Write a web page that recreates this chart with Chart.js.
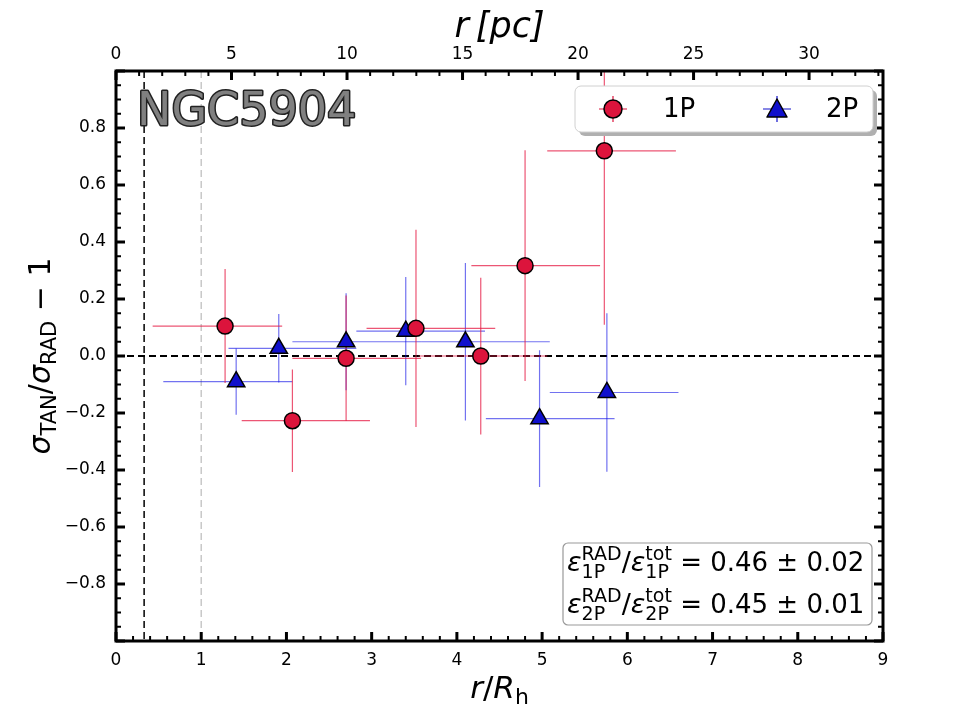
<!DOCTYPE html>
<html>
<head>
<meta charset="utf-8">
<script src="https://cdn.jsdelivr.net/npm/chart.js@4/dist/chart.umd.min.js"></script>
<style>
  body { margin: 0; background: #fff; }
  #caixa { width: 960px; height: 720px; }
</style>
</head>
<body>
<div id="caixa"><canvas id="grafico"></canvas></div>
<script>
// dados (raio em unidades de R_h)
const x1P = [1.28, 2.07, 2.70, 3.52, 4.28, 4.80, 5.73];
const y1P = [0.105, -0.227, -0.008, 0.097, 0.0, 0.317, 0.72];
const xMin1P = [0.43, 1.475, 2.07, 2.94, 3.55, 4.17, 5.06];
const xMax1P = [1.95, 2.98, 3.58, 4.45, 5.06, 5.68, 6.57];
const yErr1P = [0.20, 0.18, 0.22, 0.346, 0.275, 0.405, 0.61];

const x2P = [1.41, 1.91, 2.70, 3.40, 4.10, 4.97, 5.76];
const y2P = [-0.09, 0.027, 0.05, 0.087, 0.05, -0.22, -0.128];
const xMin2P = [0.555, 1.32, 2.07, 2.82, 3.58, 4.34, 5.09];
const xMax2P = [2.07, 2.82, 3.58, 4.33, 5.09, 5.85, 6.60];
const yErr2P = [0.116, 0.12, 0.17, 0.19, 0.276, 0.24, 0.278];

const xTicks = [0, 1, 2, 3, 4, 5, 6, 7, 8, 9];
const yTicks = [-0.8, -0.6, -0.4, -0.2, 0, 0.2, 0.4, 0.6, 0.8];
const pcTicks = [0, 5, 10, 15, 20, 25, 30];
const pcMax = 33.2;          // 9 R_h em parsec
const rLimite = 0.33;        // linha tracejada preta
const rMeia = 1;             // linha tracejada cinza

const vermelho = '#DC143C';
const azul = '#1010CC';
const FONTE = 'DejaVu Sans';

function rotuloY(v) {
  if (Math.abs(v) < 1e-9) return '0.0';
  return (v < 0 ? '\u2212' : '') + Math.abs(v).toFixed(1);
}

// escreve pedaços de texto com sobrescrito/subscrito, devolve a largura
function textoMat(ctx, partes, x, y, medir) {
  let cx = x;
  for (const p of partes) {
    if (p.sup !== undefined) {
      ctx.font = p.font;
      const w1 = ctx.measureText(p.sup).width;
      const w2 = ctx.measureText(p.sub).width;
      if (!medir) {
        ctx.fillText(p.sup, cx, y - p.up);
        ctx.fillText(p.sub, cx, y + p.down);
      }
      cx += Math.max(w1, w2);
    } else {
      ctx.font = p.font;
      const w = ctx.measureText(p.t).width;
      if (!medir) ctx.fillText(p.t, cx, y + (p.dy || 0));
      cx += w + (p.gap || 0);
    }
  }
  return cx - x;
}

const extras = {
  id: 'extras',
  beforeDatasetsDraw(chart) {
    const { ctx, chartArea: a, scales: { x, y } } = chart;
    ctx.save();
    ctx.beginPath();
    ctx.rect(a.left, a.top, a.right - a.left, a.bottom - a.top);
    ctx.clip();

    // linhas verticais de referência
    ctx.setLineDash([7, 4]);
    ctx.lineWidth = 1.5;
    ctx.strokeStyle = '#c8c8c8';
    ctx.beginPath();
    ctx.moveTo(x.getPixelForValue(rMeia), a.top);
    ctx.lineTo(x.getPixelForValue(rMeia), a.bottom);
    ctx.stroke();
    ctx.strokeStyle = '#000';
    ctx.beginPath();
    ctx.moveTo(x.getPixelForValue(rLimite), a.top);
    ctx.lineTo(x.getPixelForValue(rLimite), a.bottom);
    ctx.stroke();
    // linha do zero
    ctx.lineWidth = 1.8;
    ctx.setLineDash([7, 4]);
    ctx.beginPath();
    ctx.moveTo(a.left, y.getPixelForValue(0));
    ctx.lineTo(a.right, y.getPixelForValue(0));
    ctx.stroke();
    ctx.setLineDash([]);

    // barras de erro
    const barras = (xs, ys, lo, hi, ey, cor) => {
      ctx.strokeStyle = cor;
      ctx.lineWidth = 1.2;
      for (let i = 0; i < xs.length; i++) {
        const px = x.getPixelForValue(xs[i]);
        const py = y.getPixelForValue(ys[i]);
        ctx.beginPath();
        ctx.moveTo(x.getPixelForValue(lo[i]), py);
        ctx.lineTo(x.getPixelForValue(hi[i]), py);
        ctx.moveTo(px, y.getPixelForValue(ys[i] + ey[i]));
        ctx.lineTo(px, y.getPixelForValue(ys[i] - ey[i]));
        ctx.stroke();
      }
    };
    barras(x2P, y2P, xMin2P, xMax2P, yErr2P, 'rgba(20,20,230,0.6)');
    barras(x1P, y1P, xMin1P, xMax1P, yErr1P, 'rgba(230,30,70,0.75)');
    ctx.restore();
  },
  afterDraw(chart) {
    const { ctx, chartArea: a, scales: { x, y, x2 } } = chart;
    ctx.save();

    // moldura
    ctx.strokeStyle = '#000';
    ctx.lineWidth = 3;
    ctx.strokeRect(a.left, a.top, a.right - a.left, a.bottom - a.top);

    // marcas (para dentro)
    const marca = (px, py, dx, dy, lw) => {
      ctx.lineWidth = lw;
      ctx.beginPath();
      ctx.moveTo(px, py);
      ctx.lineTo(px + dx, py + dy);
      ctx.stroke();
    };
    for (let i = 0; i <= 45; i++) {
      const px = x.getPixelForValue(i * 0.2);
      const maior = i % 5 === 0;
      marca(px, a.bottom, 0, maior ? -9 : -5, maior ? 3 : 2);
    }
    for (let i = 0; i <= 33; i++) {
      const px = x2.getPixelForValue(i);
      const maior = i % 5 === 0;
      marca(px, a.top, 0, maior ? 9 : 5, maior ? 3 : 2);
    }
    for (let i = -20; i <= 20; i++) {
      const py = y.getPixelForValue(i * 0.05);
      const maior = i % 4 === 0;
      marca(a.left, py, maior ? 9 : 5, 0, maior ? 3 : 2);
      marca(a.right, py, maior ? -9 : -5, 0, maior ? 3 : 2);
    }

    ctx.fillStyle = '#000';
    ctx.textBaseline = 'alphabetic';

    // título superior
    ctx.textAlign = 'center';
    ctx.font = 'italic 35px ' + FONTE;
    ctx.fillText('r\u2009[pc]', (a.left + a.right) / 2, 37);

    // título inferior r/R_h
    ctx.textAlign = 'left';
    const partesX = [
      { t: 'r', font: 'italic 31px ' + FONTE },
      { t: '/', font: '31px ' + FONTE },
      { t: 'R', font: 'italic 31px ' + FONTE },
      { t: 'h', font: '22px ' + FONTE, dy: 6 }
    ];
    const wx = textoMat(ctx, partesX, 0, 0, true);
    textoMat(ctx, partesX, (a.left + a.right) / 2 - wx / 2, 698);

    // título do eixo y
    const partesY = [
      { t: '\u03c3', font: 'italic 30px ' + FONTE },
      { t: 'TAN', font: '21px ' + FONTE, dy: 6 },
      { t: '/', font: '30px ' + FONTE },
      { t: '\u03c3', font: 'italic 30px ' + FONTE },
      { t: 'RAD', font: '21px ' + FONTE, dy: 6 },
      { t: ' \u2212 1', font: '30px ' + FONTE }
    ];
    const wy = textoMat(ctx, partesY, 0, 0, true);
    ctx.save();
    ctx.translate(50, (a.top + a.bottom) / 2);
    ctx.rotate(-Math.PI / 2);
    textoMat(ctx, partesY, -wy / 2, 0);
    ctx.restore();

    // nome do aglomerado
    ctx.font = '46px ' + FONTE;
    ctx.lineJoin = 'round';
    ctx.lineWidth = 3;
    ctx.strokeStyle = '#222';
    ctx.strokeText('NGC5904', 137, 125);
    ctx.fillStyle = '#808080';
    ctx.fillText('NGC5904', 137, 125);

    // legenda
    const lx = 575, ly = 86, lw = 298, lh = 46;
    ctx.fillStyle = '#b0b0b0';
    ctx.beginPath();
    ctx.roundRect(lx + 4, ly + 4, lw, lh, 6);
    ctx.fill();
    ctx.fillStyle = '#fff';
    ctx.strokeStyle = '#d0d0d0';
    ctx.lineWidth = 1;
    ctx.beginPath();
    ctx.roundRect(lx, ly, lw, lh, 6);
    ctx.fill();
    ctx.stroke();

    const cy = ly + lh / 2;
    ctx.lineWidth = 1.2;
    ctx.strokeStyle = vermelho;
    ctx.beginPath();
    ctx.moveTo(599, cy); ctx.lineTo(627, cy);
    ctx.moveTo(613, cy - 13); ctx.lineTo(613, cy + 13);
    ctx.stroke();
    ctx.fillStyle = vermelho;
    ctx.strokeStyle = '#000';
    ctx.lineWidth = 1.5;
    ctx.beginPath();
    ctx.arc(613, cy, 9, 0, Math.PI * 2);
    ctx.fill();
    ctx.stroke();

    ctx.lineWidth = 1.2;
    ctx.strokeStyle = azul;
    ctx.beginPath();
    ctx.moveTo(763, cy); ctx.lineTo(791, cy);
    ctx.moveTo(777, cy - 13); ctx.lineTo(777, cy + 13);
    ctx.stroke();
    ctx.fillStyle = azul;
    ctx.strokeStyle = '#000';
    ctx.lineWidth = 1.5;
    ctx.beginPath();
    ctx.moveTo(777, cy - 10);
    ctx.lineTo(767, cy + 8);
    ctx.lineTo(787, cy + 8);
    ctx.closePath();
    ctx.fill();
    ctx.stroke();

    ctx.fillStyle = '#000';
    ctx.font = '26px ' + FONTE;
    ctx.textBaseline = 'middle';
    ctx.fillText('1P', 663, cy + 1);
    ctx.fillText('2P', 826, cy + 1);
    ctx.textBaseline = 'alphabetic';

    // caixa com as razões de energia
    ctx.fillStyle = 'rgba(255,255,255,0.9)';
    ctx.strokeStyle = '#999';
    ctx.lineWidth = 1.2;
    ctx.beginPath();
    ctx.roundRect(563, 543, 309, 82, 5);
    ctx.fill();
    ctx.stroke();

    ctx.fillStyle = '#000';
    const linha = (pop, v1, v2, yb) => {
      textoMat(ctx, [
        { t: '\u03b5', font: 'italic 27px ' + FONTE },
        { sup: 'RAD', sub: pop, font: '19px ' + FONTE, up: 11, down: 7 },
        { t: '/', font: '27px ' + FONTE },
        { t: '\u03b5', font: 'italic 27px ' + FONTE },
        { sup: 'tot', sub: pop, font: '19px ' + FONTE, up: 11, down: 7 },
        { t: ' = ' + v1 + ' \u00b1 ' + v2, font: '26px ' + FONTE }
      ], 567, yb);
    };
    linha('1P', '0.46', '0.02', 571);
    linha('2P', '0.45', '0.01', 613);

    ctx.restore();
  }
};

const ctxGrafico = document.getElementById('grafico').getContext('2d');
new Chart(ctxGrafico, {
  type: 'scatter',
  data: {
    datasets: [
      {
        label: '1P',
        data: x1P.map((v, i) => ({ x: v, y: y1P[i] })),
        pointStyle: 'circle',
        pointRadius: 8,
        backgroundColor: vermelho,
        borderColor: '#000',
        borderWidth: 1.5
      },
      {
        label: '2P',
        data: x2P.map((v, i) => ({ x: v, y: y2P[i] })),
        pointStyle: 'triangle',
        pointRadius: 10,
        backgroundColor: azul,
        borderColor: '#000',
        borderWidth: 1.5
      }
    ]
  },
  options: {
    responsive: true,
    maintainAspectRatio: false,
    animation: false,
    devicePixelRatio: 1,
    layout: { padding: { left: 0, right: 77, top: 0, bottom: 0 } },
    plugins: {
      legend: { display: false },
      tooltip: { enabled: false }
    },
    scales: {
      x: {
        type: 'linear',
        position: 'bottom',
        min: 0,
        max: 9,
        afterBuildTicks: s => { s.ticks = xTicks.map(v => ({ value: v })); },
        afterFit: s => { s.height = 79; },
        grid: { display: false, drawTicks: false },
        border: { display: false },
        ticks: {
          padding: 9,
          maxRotation: 0,
          autoSkip: false,
          color: '#000',
          font: { family: FONTE, size: 17 }
        }
      },
      x2: {
        type: 'linear',
        position: 'top',
        min: 0,
        max: pcMax,
        afterBuildTicks: s => { s.ticks = pcTicks.map(v => ({ value: v })); },
        afterFit: s => { s.height = 71; },
        grid: { display: false, drawTicks: false },
        border: { display: false },
        ticks: {
          padding: 6,
          maxRotation: 0,
          autoSkip: false,
          color: '#000',
          font: { family: FONTE, size: 17 }
        }
      },
      y: {
        type: 'linear',
        min: -1,
        max: 1,
        afterBuildTicks: s => { s.ticks = yTicks.map(v => ({ value: v })); },
        afterFit: s => { s.width = 116; },
        grid: { display: false, drawTicks: false },
        border: { display: false },
        ticks: {
          padding: 10,
          autoSkip: false,
          color: '#000',
          font: { family: FONTE, size: 17 },
          callback: v => rotuloY(v)
        }
      }
    }
  },
  plugins: [extras]
});
</script>
</body>
</html>
